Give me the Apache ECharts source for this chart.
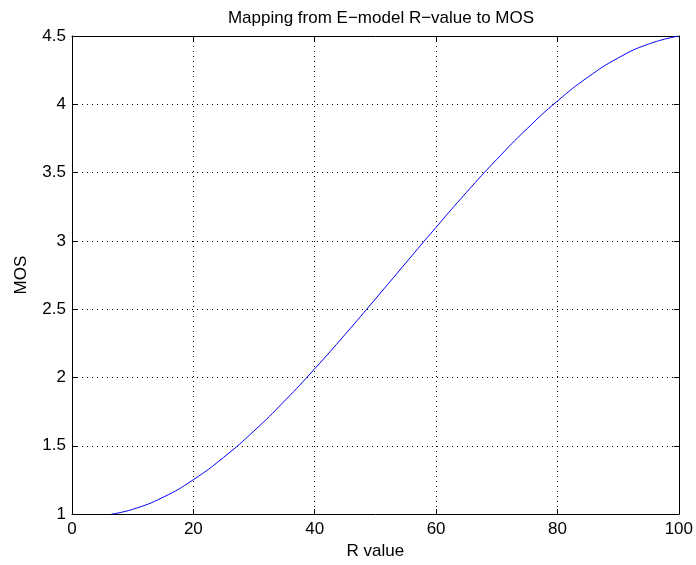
<!DOCTYPE html>
<html><head><meta charset="utf-8">
<script src="https://cdn.jsdelivr.net/npm/echarts@6/dist/echarts.min.js"></script>
<style>html,body{margin:0;padding:0;background:#fff}#c{width:696px;height:565px}</style>
</head><body><div id="c"></div>
<script>
const rValues = [6.5, 10, 15, 20, 25, 30, 35, 40, 45, 50, 55, 60, 65, 70, 75, 80, 85, 90, 95, 100];
const mosValues = [1.0, 1.035, 1.123, 1.252, 1.416, 1.609, 1.827, 2.064, 2.315, 2.575, 2.838, 3.1, 3.355, 3.597, 3.822, 4.024, 4.198, 4.339, 4.441, 4.5];
const xTicks = [0, 20, 40, 60, 80, 100];
const yTicks = [1, 1.5, 2, 2.5, 3, 3.5, 4, 4.5];
const titleText = 'Mapping from E\u2212model R\u2212value to MOS';
const xLabel = 'R value';
const yLabel = 'MOS';

const font = 'Liberation Sans, Arial, Helvetica, sans-serif';
const fs = 17;
const chart = echarts.init(document.getElementById('c'), null, {renderer: 'canvas'});
const axisCommon = {
  axisLine: {show: true, onZero: false, lineStyle: {color: '#000', width: 1}},
  axisTick: {show: true, inside: true, length: 5, lineStyle: {color: '#000'}},
  splitLine: {show: false}
};
chart.setOption({
  backgroundColor: '#fff',
  animation: false,
  title: {text: titleText, left: 376, top: 5, textAlign: 'center',
    textStyle: {fontFamily: font, fontSize: fs, fontWeight: 'normal', color: '#000'}},
  grid: {left: 72, top: 36, right: 17, bottom: 50},
  xAxis: [
    Object.assign({type: 'value', min: 0, max: 100, interval: 20, position: 'bottom',
      name: xLabel, nameLocation: 'middle', nameGap: 28,
      nameTextStyle: {fontFamily: font, fontSize: fs, color: '#000'},
      axisLabel: {fontFamily: font, fontSize: fs, color: '#000', margin: 7,
        formatter: v => xTicks.includes(v) ? String(v) : ''}}, axisCommon,
      {splitLine: {show: true, lineStyle: {color: '#000', type: [1, 4], width: 1}}}),
    Object.assign({type: 'value', min: 0, max: 100, interval: 20, position: 'top',
      axisLabel: {show: false}}, axisCommon)
  ],
  yAxis: [
    Object.assign({type: 'value', min: 1, max: 4.5, interval: 0.5, position: 'left',
      name: yLabel, nameLocation: 'middle', nameGap: 42, nameRotate: 90,
      nameTextStyle: {fontFamily: font, fontSize: fs, color: '#000'},
      axisLabel: {fontFamily: font, fontSize: fs, color: '#000', margin: 6,
        formatter: v => yTicks.includes(v) ? String(v) : ''}}, axisCommon,
      {splitLine: {show: true, lineStyle: {color: '#000', type: [1, 4], width: 1}}}),
    Object.assign({type: 'value', min: 1, max: 4.5, interval: 0.5, position: 'right',
      axisLabel: {show: false}}, axisCommon)
  ],
  series: [{
    type: 'line',
    data: rValues.map((r, i) => [r, mosValues[i]]),
    smooth: true,
    showSymbol: false,
    lineStyle: {color: '#0000ff', width: 1},
    itemStyle: {color: '#0000ff'}
  }]
});
</script></body></html>
